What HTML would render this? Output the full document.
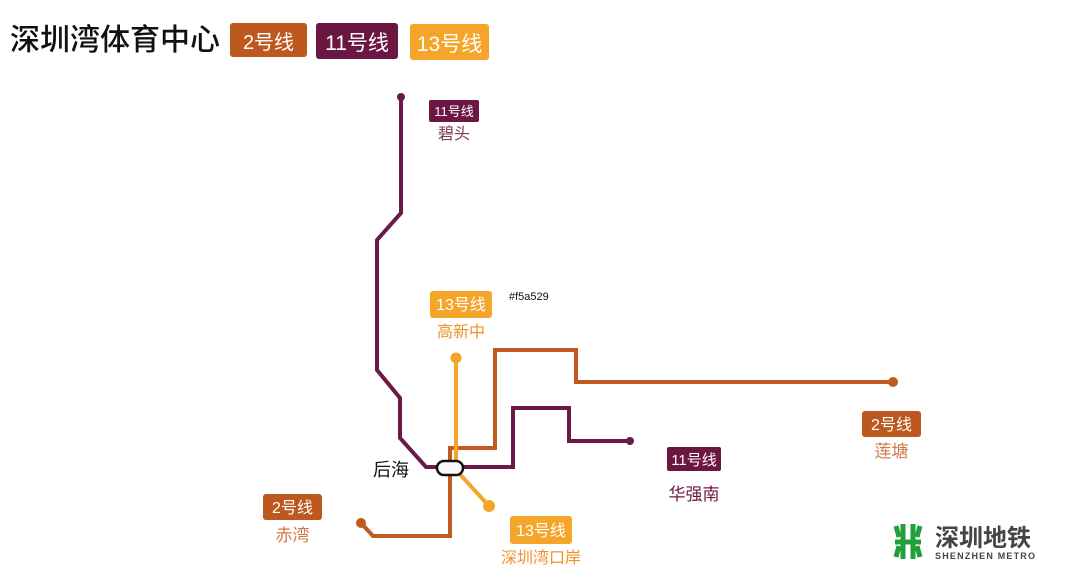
<!DOCTYPE html>
<html><head><meta charset="utf-8"><style>
body{margin:0;width:1080px;height:578px;background:#fff;overflow:hidden;font-family:"Liberation Sans","Noto Sans CJK SC",sans-serif}
</style></head><body>
<svg width="1080" height="578" xmlns="http://www.w3.org/2000/svg" style="font-family:'Liberation Sans','Noto Sans CJK SC',sans-serif">
<text x="10" y="50" font-size="30" font-weight="500" fill="#111">深圳湾体育中心</text>
<rect x="230" y="23" width="77" height="34" rx="3" fill="#bd581e"/>
<text x="268.5" y="49" font-size="20" fill="#fff" text-anchor="middle">2号线</text>
<rect x="316" y="23" width="82" height="36" rx="3" fill="#6b1742"/>
<text x="357" y="50" font-size="21" fill="#fff" text-anchor="middle">11号线</text>
<rect x="410" y="24" width="79" height="36" rx="3" fill="#f5a529"/>
<text x="449.5" y="51" font-size="21" fill="#fff" text-anchor="middle">13号线</text>

<g fill="none" stroke-width="4" stroke-linejoin="miter">
<polyline stroke="#6b1a48" points="401,97 401,213 377,240 377,370 400,398 400,438 426,467 513,467 513,408 569,408 569,441 630,441"/>
<polyline stroke="#c05a1e" points="361,523 373,536 450,536 450,448 495,448 495,350 576,350 576,382 893,382"/>
<polyline stroke="#f5a529" points="456,358 456,470 489,506"/>
</g>
<circle cx="401" cy="97" r="4" fill="#6b1a48"/>
<circle cx="630" cy="441" r="4" fill="#6b1a48"/>
<circle cx="361" cy="523" r="5" fill="#c05a1e"/>
<circle cx="893" cy="382" r="5" fill="#c05a1e"/>
<circle cx="456" cy="358" r="5.5" fill="#f5a529"/>
<circle cx="489" cy="506" r="6" fill="#f5a529"/>
<rect x="437" y="461" width="26" height="14" rx="7" fill="#fafafa" stroke="#111" stroke-width="2.5"/>
<text x="373" y="476" font-size="18" fill="#111">后海</text>

<rect x="429" y="100" width="50" height="22" rx="2" fill="#6b1742"/>
<text x="454" y="116" font-size="13" fill="#fff" text-anchor="middle">11号线</text>
<text x="454" y="139" font-size="16" fill="#7a3a5a" text-anchor="middle">碧头</text>

<rect x="430" y="291" width="62" height="27" rx="3" fill="#f5a529"/>
<text x="461" y="310" font-size="16" fill="#fff" text-anchor="middle">13号线</text>
<text x="461" y="337" font-size="16" fill="#f0902a" text-anchor="middle">高新中</text>
<text x="509" y="300" font-size="11" fill="#111">#f5a529</text>

<rect x="862" y="411" width="59" height="26" rx="3" fill="#bd581e"/>
<text x="891.5" y="430" font-size="16" fill="#fff" text-anchor="middle">2号线</text>
<text x="891.5" y="457" font-size="17" fill="#d07a48" text-anchor="middle">莲塘</text>

<rect x="667" y="447" width="54" height="24" rx="2" fill="#6b1742"/>
<text x="694" y="465" font-size="15" fill="#fff" text-anchor="middle">11号线</text>
<text x="694" y="500" font-size="17" fill="#6b1742" text-anchor="middle">华强南</text>

<rect x="263" y="494" width="59" height="26" rx="3" fill="#bd581e"/>
<text x="292.5" y="513" font-size="16" fill="#fff" text-anchor="middle">2号线</text>
<text x="292.5" y="541" font-size="17" fill="#d07a48" text-anchor="middle">赤湾</text>

<rect x="510" y="516" width="62" height="28" rx="3" fill="#f5a529"/>
<text x="541" y="536" font-size="16" fill="#fff" text-anchor="middle">13号线</text>
<text x="541" y="563" font-size="16" fill="#f0902a" text-anchor="middle">深圳湾口岸</text>

<g stroke="#1fa03a" stroke-width="5" fill="none">
<line x1="903" y1="524" x2="903" y2="559"/>
<line x1="913" y1="524" x2="913" y2="559"/>
<line x1="895" y1="542" x2="921" y2="542"/>
<polyline points="896,526 899,537"/>
<polyline points="920,526 917,537"/>
<polyline points="896,557 899,546"/>
<polyline points="920,557 917,546"/>
</g>
<text x="935" y="546" font-size="24" font-weight="bold" fill="#444">深圳地铁</text>
<text x="935" y="559" font-size="9" font-weight="bold" fill="#444" textLength="100">SHENZHEN METRO</text>
</svg>
</body></html>
